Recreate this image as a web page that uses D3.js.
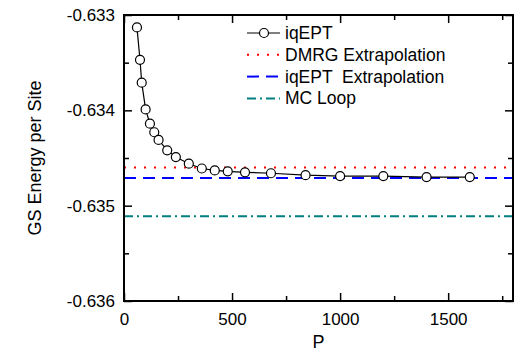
<!DOCTYPE html>
<html>
<head>
<meta charset="utf-8">
<script src="https://cdn.jsdelivr.net/npm/d3@7"></script>
<style>
  body { margin: 0; background: #fff; }
  text { font-family: "Liberation Sans", Arial, sans-serif; fill: #000; }
</style>
</head>
<body>
<svg id="chart" width="518" height="351"></svg>
<script>
// iqEPT ground-state energy per site vs P
const pValues = [60, 74, 82, 100, 120, 140, 160, 200, 240, 300, 360, 420, 480, 560, 680, 840, 1000, 1200, 1400, 1600];
const energies = [-0.63313, -0.63347, -0.63371, -0.63399, -0.63414, -0.63423, -0.63431, -0.63442, -0.63449, -0.63456,
                  -0.63461, -0.63463, -0.63464, -0.63465, -0.63466, -0.63468, -0.63469, -0.63469, -0.63470, -0.63470];

const dmrgExtrapolation = -0.63460;
const iqeptExtrapolation = -0.63471;
const mcLoop = -0.63511;

const xTicks = [0, 500, 1000, 1500];
const yTicks = [-0.636, -0.635, -0.634, -0.633];
const legendLabels = ['iqEPT', 'DMRG Extrapolation', 'iqEPT  Extrapolation', 'MC Loop'];

const margin = {left: 124, top: 15, right: 5, bottom: 50};
const svg = d3.select('#chart');
const width = +svg.attr('width') - margin.left - margin.right;
const height = +svg.attr('height') - margin.top - margin.bottom;

const x = d3.scaleLinear().domain([0, 1800]).range([0, width]);
const y = d3.scaleLinear().domain([-0.636, -0.633]).range([height, 0]);

const g = svg.append('g').attr('transform', `translate(${margin.left},${margin.top})`);

// reference lines
const refLines = [
    {value: dmrgExtrapolation, color: '#ff0000', dash: '2,8'},
    {value: iqeptExtrapolation, color: '#0000ff', dash: '12,7'},
    {value: mcLoop, color: '#008080', dash: '9,4,2,4'}
];
refLines.forEach(r => {
    g.append('line')
        .attr('x1', x(0)).attr('x2', x(1800))
        .attr('y1', y(r.value)).attr('y2', y(r.value))
        .attr('stroke', r.color)
        .attr('stroke-width', 2)
        .attr('stroke-dasharray', r.dash);
});

// data curve
const pts = pValues.map((p, i) => ({p: p, e: energies[i]}));
g.append('path')
    .datum(pts)
    .attr('fill', 'none')
    .attr('stroke', '#000')
    .attr('stroke-width', 1.2)
    .attr('d', d3.line().x(d => x(d.p)).y(d => y(d.e)));

g.selectAll('circle.pt')
    .data(pts)
    .enter().append('circle')
    .attr('class', 'pt')
    .attr('cx', d => x(d.p))
    .attr('cy', d => y(d.e))
    .attr('r', 4.5)
    .attr('fill', '#fff')
    .attr('stroke', '#000')
    .attr('stroke-width', 1.2);

// axes with inward ticks
function styleAxis(sel) {
    sel.select('.domain').remove();
    sel.selectAll('line').attr('stroke', '#000').attr('stroke-width', 1.5);
    sel.selectAll('text').attr('font-size', 17).attr('font-family', '"Liberation Sans", Arial, sans-serif');
}

const xMinor = d3.range(250, 1800, 500);
const yMinor = [-0.6355, -0.6345, -0.6335];
const hyphenFmt = d => d3.format('.3f')(d).replace('−', '-');

g.append('g').attr('transform', `translate(0,${height})`)
    .call(d3.axisBottom(x).tickValues(xTicks).tickSizeInner(-8).tickSizeOuter(0).tickPadding(12).tickFormat(d3.format('d')))
    .call(styleAxis);
g.append('g').attr('transform', `translate(0,${height})`)
    .call(d3.axisBottom(x).tickValues(xMinor).tickSizeInner(-5).tickSizeOuter(0).tickFormat(''))
    .call(styleAxis);
g.append('g')
    .call(d3.axisTop(x).tickValues(xTicks).tickSizeInner(-8).tickSizeOuter(0).tickFormat(''))
    .call(styleAxis);
g.append('g')
    .call(d3.axisTop(x).tickValues(xMinor).tickSizeInner(-5).tickSizeOuter(0).tickFormat(''))
    .call(styleAxis);

g.append('g')
    .call(d3.axisLeft(y).tickValues(yTicks).tickSizeInner(-8).tickSizeOuter(0).tickPadding(9).tickFormat(hyphenFmt))
    .call(styleAxis);
g.append('g')
    .call(d3.axisLeft(y).tickValues(yMinor).tickSizeInner(-5).tickSizeOuter(0).tickFormat(''))
    .call(styleAxis);
g.append('g').attr('transform', `translate(${width},0)`)
    .call(d3.axisRight(y).tickValues(yTicks).tickSizeInner(-8).tickSizeOuter(0).tickFormat(''))
    .call(styleAxis);
g.append('g').attr('transform', `translate(${width},0)`)
    .call(d3.axisRight(y).tickValues(yMinor).tickSizeInner(-5).tickSizeOuter(0).tickFormat(''))
    .call(styleAxis);

// frame
g.append('rect')
    .attr('width', width).attr('height', height)
    .attr('fill', 'none').attr('stroke', '#000').attr('stroke-width', 2);

// axis titles
svg.append('text')
    .attr('x', margin.left + width / 2)
    .attr('y', 348)
    .attr('text-anchor', 'middle')
    .attr('font-size', 18)
    .text('P');
svg.append('text')
    .attr('transform', `translate(41,${margin.top + height / 2}) rotate(-90)`)
    .attr('text-anchor', 'middle')
    .attr('font-size', 18)
    .text('GS Energy per Site');

// legend
const legend = svg.append('g').attr('transform', 'translate(247,33)');
const legendStyles = [
    {color: '#000', dash: null, marker: true},
    {color: '#ff0000', dash: '2,8', marker: false},
    {color: '#0000ff', dash: '12,7', marker: false},
    {color: '#008080', dash: '9,4,2,4', marker: false}
];
legendLabels.forEach((label, i) => {
    const row = legend.append('g').attr('transform', `translate(0,${i * 21.8})`);
    const s = legendStyles[i];
    row.append('line')
        .attr('x1', 0).attr('x2', 33)
        .attr('stroke', s.color)
        .attr('stroke-width', s.marker ? 1.2 : 2)
        .attr('stroke-dasharray', s.dash);
    if (s.marker) {
        row.append('circle').attr('cx', 17).attr('r', 4.5)
            .attr('fill', '#fff').attr('stroke', '#000').attr('stroke-width', 1.2);
    }
    row.append('text')
        .attr('x', 38).attr('y', 6)
        .attr('font-size', 17.5)
        .attr('xml:space', 'preserve')
        .style('white-space', 'pre')
        .text(label);
});
</script>
</body>
</html>
